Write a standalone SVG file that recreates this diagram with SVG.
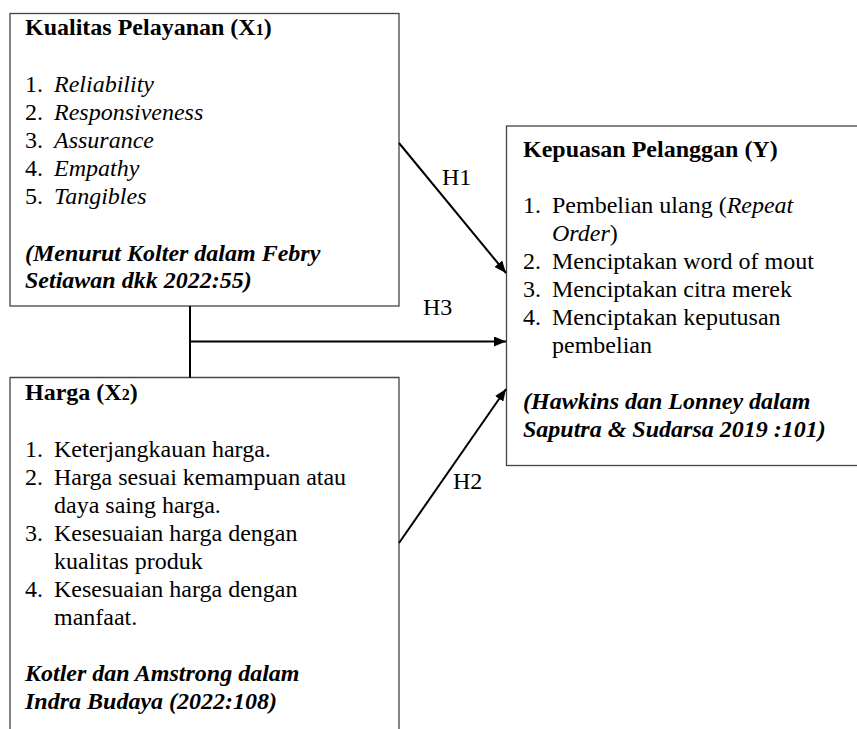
<svg xmlns="http://www.w3.org/2000/svg" width="857" height="729" viewBox="0 0 857 729">
<defs>
<marker id="ah" viewBox="0 0 12 10" refX="12" refY="5" markerWidth="12" markerHeight="10" markerUnits="userSpaceOnUse" orient="auto">
<path d="M0,0 L12,5 L0,10 z" fill="#000"/>
</marker>
</defs>
<g id="x1">
<rect fill="#fff" stroke="#444" stroke-width="1.3" x="10" y="13.5" width="389" height="292.5"/>
<text font-family="Liberation Serif" font-size="24" x="25" y="35" font-weight="bold">Kualitas Pelayanan (X<tspan font-size="16">1</tspan>)</text>
<text font-family="Liberation Serif" font-size="24" x="25" y="92">1.</text><text font-family="Liberation Serif" font-size="24" x="54" y="92" font-style="italic">Reliability</text>
<text font-family="Liberation Serif" font-size="24" x="25" y="120">2.</text><text font-family="Liberation Serif" font-size="24" x="54" y="120" font-style="italic">Responsiveness</text>
<text font-family="Liberation Serif" font-size="24" x="25" y="148">3.</text><text font-family="Liberation Serif" font-size="24" x="54" y="148" font-style="italic">Assurance</text>
<text font-family="Liberation Serif" font-size="24" x="25" y="176">4.</text><text font-family="Liberation Serif" font-size="24" x="54" y="176" font-style="italic">Empathy</text>
<text font-family="Liberation Serif" font-size="24" x="25" y="204">5.</text><text font-family="Liberation Serif" font-size="24" x="54" y="204" font-style="italic">Tangibles</text>
<text font-family="Liberation Serif" font-size="24" x="25" y="261" font-weight="bold" font-style="italic">(Menurut Kolter dalam Febry</text>
<text font-family="Liberation Serif" font-size="24" x="25" y="288" font-weight="bold" font-style="italic">Setiawan dkk 2022:55)</text>
</g>
<g id="y">
<rect fill="#fff" stroke="#444" stroke-width="1.3" x="506.5" y="126" width="360" height="339.5"/>
<text font-family="Liberation Serif" font-size="24" x="523" y="157" font-weight="bold">Kepuasan Pelanggan (Y)</text>
<text font-family="Liberation Serif" font-size="24" x="523" y="213">1.</text><text font-family="Liberation Serif" font-size="24" x="552" y="213">Pembelian ulang (<tspan font-style="italic">Repeat</tspan></text>
<text font-family="Liberation Serif" font-size="24" x="552" y="241"><tspan font-style="italic">Order</tspan>)</text>
<text font-family="Liberation Serif" font-size="24" x="523" y="269">2.</text><text font-family="Liberation Serif" font-size="24" x="552" y="269">Menciptakan word of mout</text>
<text font-family="Liberation Serif" font-size="24" x="523" y="297">3.</text><text font-family="Liberation Serif" font-size="24" x="552" y="297">Menciptakan citra merek</text>
<text font-family="Liberation Serif" font-size="24" x="523" y="325">4.</text><text font-family="Liberation Serif" font-size="24" x="552" y="325">Menciptakan keputusan</text>
<text font-family="Liberation Serif" font-size="24" x="552" y="353">pembelian</text>
<text font-family="Liberation Serif" font-size="24" x="523" y="409" font-weight="bold" font-style="italic">(Hawkins dan Lonney dalam</text>
<text font-family="Liberation Serif" font-size="24" x="523" y="437" font-weight="bold" font-style="italic">Saputra &amp; Sudarsa 2019 :101)</text>
</g>
<g id="x2">
<path fill="#fff" stroke="#444" stroke-width="1.3" d="M10,740 V377.5 H399 V740"/>
<text font-family="Liberation Serif" font-size="24" x="25" y="400" font-weight="bold">Harga (X<tspan font-size="16">2</tspan>)</text>
<text font-family="Liberation Serif" font-size="24" x="25" y="457">1.</text><text font-family="Liberation Serif" font-size="24" x="54" y="457">Keterjangkauan harga.</text>
<text font-family="Liberation Serif" font-size="24" x="25" y="485">2.</text><text font-family="Liberation Serif" font-size="24" x="54" y="485">Harga sesuai kemampuan atau</text>
<text font-family="Liberation Serif" font-size="24" x="54" y="513">daya saing harga.</text>
<text font-family="Liberation Serif" font-size="24" x="25" y="541">3.</text><text font-family="Liberation Serif" font-size="24" x="54" y="541">Kesesuaian harga dengan</text>
<text font-family="Liberation Serif" font-size="24" x="54" y="569">kualitas produk</text>
<text font-family="Liberation Serif" font-size="24" x="25" y="597">4.</text><text font-family="Liberation Serif" font-size="24" x="54" y="597">Kesesuaian harga dengan</text>
<text font-family="Liberation Serif" font-size="24" x="54" y="625">manfaat.</text>
<text font-family="Liberation Serif" font-size="24" x="25" y="681" font-weight="bold" font-style="italic">Kotler dan Amstrong dalam</text>
<text font-family="Liberation Serif" font-size="24" x="25" y="709" font-weight="bold" font-style="italic">Indra Budaya (2022:108)</text>
</g>
<g id="connectors" stroke="#000" stroke-width="2" fill="none">
<path d="M399,143 L506,273" marker-end="url(#ah)"/>
<path d="M190,306 V377.5 M190,341.5 H506" marker-end="url(#ah)"/>
<path d="M399,543 L506,389" marker-end="url(#ah)"/>
</g>
<g id="labels">
<text font-family="Liberation Serif" font-size="24" x="442" y="185">H1</text>
<text font-family="Liberation Serif" font-size="24" x="423" y="315">H3</text>
<text font-family="Liberation Serif" font-size="24" x="453" y="489">H2</text>
</g>
</svg>
